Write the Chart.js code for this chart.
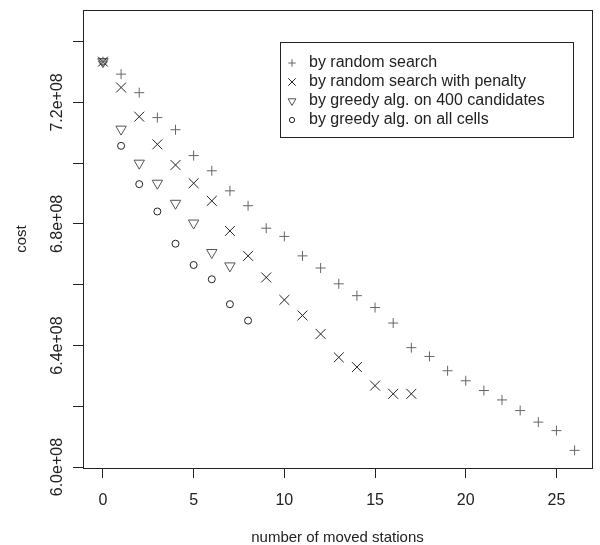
<!DOCTYPE html>
<html>
<head>
<meta charset="utf-8">
<style>
  html, body { margin: 0; padding: 0; background: #fff; }
</style>
</head>
<body>
<canvas id="costChart" width="600" height="545"></canvas>
<script src="https://cdn.jsdelivr.net/npm/chart.js"></script>
<script>
// number of moved stations (x) for each series
const movedStations = [0, 1, 2, 3, 4, 5, 6, 7, 8, 9, 10, 11, 12, 13, 14, 15, 16, 17, 18, 19, 20, 21, 22, 23, 24, 25, 26];

// cost values
const costRandom = [7.334e8, 7.293e8, 7.232e8, 7.150e8, 7.110e8, 7.025e8, 6.975e8, 6.909e8, 6.860e8,
  6.786e8, 6.759e8, 6.695e8, 6.655e8, 6.603e8, 6.564e8, 6.525e8, 6.474e8, 6.393e8, 6.364e8,
  6.317e8, 6.284e8, 6.252e8, 6.221e8, 6.186e8, 6.148e8, 6.120e8, 6.055e8];
const costPenalty = [7.334e8, 7.249e8, 7.153e8, 7.062e8, 6.994e8, 6.934e8, 6.876e8, 6.777e8, 6.695e8,
  6.624e8, 6.550e8, 6.499e8, 6.438e8, 6.361e8, 6.329e8, 6.268e8, 6.241e8, 6.241e8];
const costGreedy400 = [7.334e8, 7.112e8, 7.000e8, 6.934e8, 6.868e8, 6.803e8, 6.706e8, 6.662e8];
const costGreedyAll = [7.334e8, 7.057e8, 6.931e8, 6.841e8, 6.735e8, 6.665e8, 6.618e8, 6.536e8, 6.482e8];

const seriesLabels = [
  "by random search",
  "by random search with penalty",
  "by greedy alg. on 400 candidates",
  "by greedy alg. on all cells",
];

const xTicks = [0, 5, 10, 15, 20, 25];
const yTicks = [6.0e8, 6.2e8, 6.4e8, 6.6e8, 6.8e8, 7.0e8, 7.2e8, 7.4e8];
const yTickLabels = ["6.0e+08", "", "6.4e+08", "", "6.8e+08", "", "7.2e+08", ""];

function toPoints(values) {
  return values.map((v, i) => ({ x: movedStations[i], y: v }));
}

const ink = "#222";
const styles = [
  { pointStyle: "cross", radius: 5, color: "#666", rotation: 0 },
  { pointStyle: "crossRot", radius: 7, color: "#222", rotation: 0 },
  { pointStyle: "triangle", radius: 6, color: "#555", rotation: 180 },
  { pointStyle: "circle", radius: 3.5, color: "#222", rotation: 0 },
];

const allSeries = [costRandom, costPenalty, costGreedy400, costGreedyAll];
const datasets = allSeries.map((vals, i) => ({
  label: seriesLabels[i],
  data: toPoints(vals),
  pointStyle: styles[i].pointStyle,
  pointRadius: styles[i].radius,
  pointHoverRadius: styles[i].radius,
  pointRotation: styles[i].rotation,
  borderColor: styles[i].color,
  backgroundColor: "rgba(0,0,0,0)",
  borderWidth: 1,
  showLine: false,
}));

// box around plot + legend in the top right corner
const boxPlugin = {
  id: "boxPlugin",
  afterDraw(chart) {
    const { ctx, chartArea } = chart;
    ctx.save();
    ctx.strokeStyle = ink;
    ctx.lineWidth = 1;
    ctx.strokeRect(chartArea.left + 0.5, chartArea.top + 0.5,
      chartArea.right - chartArea.left, chartArea.bottom - chartArea.top);

    const bw = 293, bh = 95;
    const bx = chartArea.right - 19 - bw;
    const by = chartArea.top + 32;
    ctx.fillStyle = "#fff";
    ctx.fillRect(bx, by, bw, bh);
    ctx.strokeRect(bx + 0.5, by + 0.5, bw, bh);

    ctx.font = "16px 'Liberation Sans', Arial, sans-serif";
    ctx.textBaseline = "middle";
    ctx.textAlign = "left";
    for (let i = 0; i < seriesLabels.length; i++) {
      const ry = by + 21 + i * 19;
      ctx.strokeStyle = styles[i].color;
      ctx.fillStyle = "rgba(0,0,0,0)";
      ctx.lineWidth = 1;
      Chart.helpers.drawPoint(ctx, {
        pointStyle: styles[i].pointStyle,
        radius: styles[i].radius * 0.75,
        rotation: styles[i].rotation,
        borderWidth: 1,
      }, bx + 12, ry);
      ctx.fillStyle = ink;
      ctx.fillText(seriesLabels[i], bx + 29, ry);
    }
    ctx.restore();
  },
};

new Chart(document.getElementById("costChart"), {
  type: "scatter",
  data: { datasets: datasets },
  options: {
    responsive: false,
    animation: false,
    layout: { padding: { top: 10, right: 5, left: 0, bottom: 0 } },
    plugins: {
      legend: { display: false },
      tooltip: { enabled: false },
    },
    scales: {
      x: {
        type: "linear",
        min: -1.1,
        max: 26.96,
        afterBuildTicks: (s) => { s.ticks = xTicks.map((v) => ({ value: v })); },
        afterFit: (s) => { s.height = 77; },
        grid: { display: true, drawOnChartArea: false, drawTicks: true, tickLength: 10, color: ink },
        border: { display: false },
        ticks: {
          color: ink,
          padding: 13,
          font: { family: "'Liberation Sans', Arial, sans-serif", size: 16 },
          callback: (v) => String(v),
          maxRotation: 0,
        },
        title: {
          display: true,
          text: "number of moved stations",
          color: ink,
          font: { family: "'Liberation Sans', Arial, sans-serif", size: 15, lineHeight: 1 },
          padding: { top: 0, bottom: 0 },
        },
      },
      y: {
        type: "linear",
        min: 5.997e8,
        max: 7.504e8,
        afterBuildTicks: (s) => { s.ticks = yTicks.map((v) => ({ value: v })); },
        afterFit: (s) => { s.width = 83; },
        grid: { display: true, drawOnChartArea: false, drawTicks: true, tickLength: 10, color: ink },
        border: { display: false },
        ticks: {
          color: ink,
          padding: -14,
          minRotation: 90,
          maxRotation: 90,
          crossAlign: "center",
          font: { family: "'Liberation Sans', Arial, sans-serif", size: 16 },
          callback: (v, i) => yTickLabels[i],
        },
        title: {
          display: true,
          text: "cost",
          color: ink,
          font: { family: "'Liberation Sans', Arial, sans-serif", size: 15, lineHeight: 1 },
          padding: { top: 14, bottom: 0 },
        },
      },
    },
  },
  plugins: [boxPlugin],
});
</script>
</body>
</html>
